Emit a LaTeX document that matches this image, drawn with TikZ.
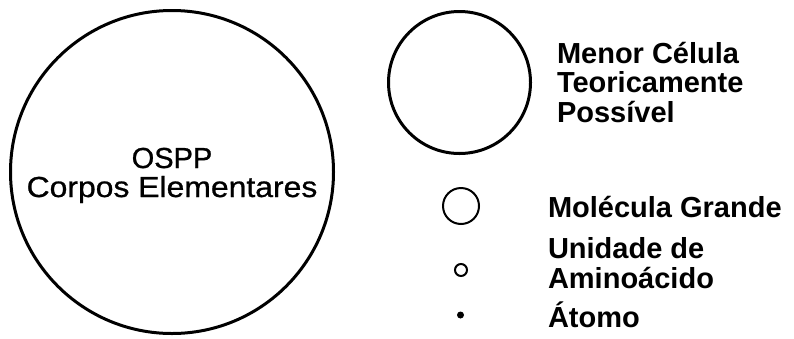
\documentclass[tikz,border=0pt]{standalone}
\usepackage{fontspec}
\setmainfont{Liberation Sans}
\newfontfamily\heavyfont[FakeBold=0.8]{Liberation Sans}
\begin{document}
\begin{tikzpicture}[x=1pt,y=-1pt,
  ring/.style={circle,draw=black,inner sep=0pt,outer sep=0pt},
  label/.style={inner sep=0pt,outer sep=0pt,anchor=base west,align=left,
    font=\fontsize{29}{29.5}\selectfont\bfseries},
  bigtext/.style={inner sep=0pt,outer sep=0pt,anchor=base,align=center,
    font=\heavyfont\fontsize{29}{29}\selectfont}]
\fill[white] (0,0) rectangle (794,338);
\useasboundingbox (0,0) rectangle (794,338);
% circles
\node[ring,line width=3pt,minimum size=323pt] (ospp) at (172,172) {};
\node[ring,line width=3pt,minimum size=142pt] (cell) at (459.5,82.5) {};
\node[ring,line width=2pt,minimum size=36pt] (mol) at (461,206) {};
\node[ring,line width=2pt,minimum size=12pt] (amino) at (461,270) {};
\node[circle,fill=black,inner sep=0pt,minimum size=7pt] (atom) at (460.5,315) {};
% texts
\node[bigtext] (t1) at (172,168) {OSPP};
\node[bigtext] (t2) at (172,197) {\scalebox{1.1}[1]{Corpos Elementares}};
\node[label] (l1) at (557,122) {Menor Célula\\Teoricamente\\Possível};
\node[label] (l2) at (548,217) {Molécula Grande};
\node[label] (l3) at (548,288) {Unidade de\\Aminoácido};
\node[label] (l4) at (548,327) {Átomo};
\end{tikzpicture}
\end{document}
